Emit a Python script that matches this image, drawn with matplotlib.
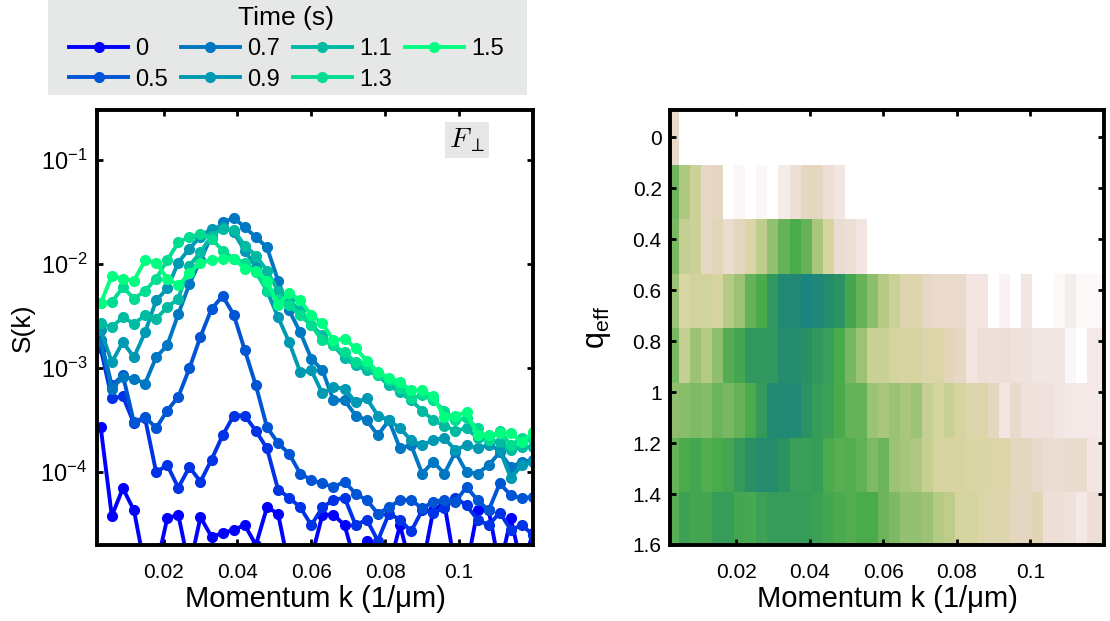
import numpy as np
import matplotlib.pyplot as plt
from matplotlib.colors import LinearSegmentedColormap
from matplotlib.patches import Rectangle

plt.rcParams['font.family'] = ['Liberation Sans', 'DejaVu Sans']
plt.rcParams['mathtext.fontset'] = 'custom'
plt.rcParams['mathtext.rm'] = 'Liberation Sans'
plt.rcParams['mathtext.it'] = 'Liberation Sans:italic'

# momentum grid (1/um)
k = 0.003 * np.arange(1, 41)

# time of each curve (s); 0.3 s is drawn but not in the legend
times = [0, 0.3, 0.5, 0.7, 0.9, 1.1, 1.3, 1.5]
labels = ['0', None, '0.5', '0.7', '0.9', '1.1', '1.3', '1.5']

S_0 = [2.7e-4, 3.8e-5, 7.0e-5, 4.3e-5, 1.2e-5, 1.2e-5, 3.6e-5, 3.9e-5, 1.2e-5, 3.7e-5,
       2.4e-5, 2.6e-5, 2.8e-5, 3.1e-5, 2.0e-5, 4.6e-5, 4.0e-5, 1.2e-5, 1.2e-5, 1.5e-5,
       3.9e-5, 3.9e-5, 3.1e-5, 1.3e-5, 2.2e-5, 1.2e-5, 1.2e-5, 3.1e-5, 1.2e-5, 1.2e-5,
       4.3e-5, 5.0e-5, 1.2e-5, 1.2e-5, 4.3e-5, 4.3e-5, 1.2e-5, 3.6e-5, 1.2e-5, 2.6e-5]
S_03 = [1.54e-3, 5.1e-4, 5.35e-4, 2.94e-4, 3.3e-4, 1.0e-4, 1.17e-4, 7.1e-5, 1.12e-4, 8.1e-5,
        1.32e-4, 2.26e-4, 3.5e-4, 3.5e-4, 2.49e-4, 1.69e-4, 6.8e-5, 5.7e-5, 4.6e-5, 3.1e-5,
        4.6e-5, 5.4e-5, 5.7e-5, 3.1e-5, 3.5e-5, 2.2e-5, 4.0e-5, 3.5e-5, 2.7e-5, 4.3e-5,
        4.1e-5, 4.5e-5, 5.7e-5, 4.8e-5, 3.5e-5, 3.1e-5, 4.1e-5, 2.8e-5, 3.1e-5, 2.5e-5]
S_05 = [1.84e-3, 6.8e-4, 8.5e-4, 3.0e-4, 3.4e-4, 2.65e-4, 3.9e-4, 5.3e-4, 9.9e-4, 2.0e-3,
        3.7e-3, 4.9e-3, 3.25e-3, 1.48e-3, 6.8e-4, 2.7e-4, 1.9e-4, 1.5e-4, 9.7e-5, 8.4e-5,
        7.8e-5, 7.2e-5, 8.1e-5, 6.2e-5, 5.4e-5, 4.0e-5, 4.6e-5, 5.4e-5, 5.4e-5, 4.5e-5,
        5.2e-5, 5.4e-5, 5.2e-5, 7.2e-5, 5.4e-5, 4.3e-5, 7.8e-5, 6.0e-5, 5.6e-5, 5.8e-5]
S_07 = [1.77e-3, 6.3e-4, 8.2e-4, 7.9e-4, 7.1e-4, 1.27e-3, 1.65e-3, 3.3e-3, 6.4e-3, 1.08e-2,
        1.87e-2, 2.5e-2, 2.76e-2, 2.25e-2, 1.8e-2, 1.44e-2, 6.9e-3, 3.57e-3, 2.2e-3, 1.23e-3,
        9.5e-4, 4.9e-4, 4.9e-4, 3.5e-4, 3.15e-4, 2.26e-4, 3.15e-4, 1.69e-4, 1.82e-4, 9.7e-5,
        1.26e-4, 9.7e-5, 1.56e-4, 1.0e-4, 9.7e-5, 1.17e-4, 1.55e-4, 1.12e-4, 1.26e-4, 1.3e-4]
S_09 = [2.3e-3, 1.14e-3, 1.77e-3, 1.27e-3, 2.2e-3, 4.45e-3, 5.8e-3, 1.03e-2, 1.4e-2, 1.83e-2,
        2.18e-2, 2.28e-2, 2.0e-2, 1.34e-2, 9.3e-3, 5.5e-3, 3.08e-3, 1.77e-3, 9.1e-4, 9.5e-4,
        5.7e-4, 6.6e-4, 6.3e-4, 4.7e-4, 5.1e-4, 3.5e-4, 3.15e-4, 2.64e-4, 2.03e-4, 1.82e-4,
        2.03e-4, 2.12e-4, 1.63e-4, 1.82e-4, 1.7e-4, 1.82e-4, 1.63e-4, 8.8e-5, 1.17e-4, 1.25e-4]
S_11 = [2.68e-3, 2.47e-3, 3.08e-3, 2.66e-3, 3.2e-3, 2.97e-3, 3.84e-3, 4.63e-3, 9.6e-3, 1.29e-2,
        1.87e-2, 2.18e-2, 2.09e-2, 1.5e-2, 1.2e-2, 8.6e-3, 5.5e-3, 4.45e-3, 3.57e-3, 2.57e-3,
        2.06e-3, 1.65e-3, 1.24e-3, 1.06e-3, 9.5e-4, 8.5e-4, 6.8e-4, 5.85e-4, 4.9e-4, 3.9e-4,
        3.15e-4, 2.8e-4, 2.5e-4, 2.64e-4, 2.12e-4, 2.03e-4, 1.94e-4, 1.63e-4, 1.75e-4, 1.75e-4]
S_13 = [4.17e-3, 4.29e-3, 5.97e-3, 4.63e-3, 5.5e-3, 7.2e-3, 1.08e-2, 1.61e-2, 1.8e-2, 1.94e-2,
        1.74e-2, 1.34e-2, 1.12e-2, 1.03e-2, 8.3e-3, 5.5e-3, 4.45e-3, 4.0e-3, 3.2e-3, 2.57e-3,
        1.84e-3, 1.65e-3, 1.41e-3, 1.13e-3, 1.06e-3, 8.5e-4, 7.6e-4, 6.4e-4, 5.1e-4, 5.5e-4,
        4.9e-4, 3.9e-4, 3.15e-4, 3.3e-4, 2.64e-4, 2.03e-4, 2.5e-4, 1.82e-4, 2.12e-4, 2.03e-4]
S_15 = [4.17e-3, 7.7e-3, 7.2e-3, 6.9e-3, 1.08e-2, 1.03e-2, 7.2e-3, 6.2e-3, 8.1e-3, 1.03e-2,
        1.08e-2, 1.12e-2, 1.12e-2, 9.0e-3, 8.6e-3, 6.9e-3, 4.0e-3, 5.3e-3, 4.45e-3, 3.2e-3,
        2.68e-3, 1.84e-3, 1.92e-3, 1.54e-3, 1.18e-3, 9.1e-4, 8.1e-4, 7.3e-4, 6.1e-4, 6.1e-4,
        5.35e-4, 3.37e-4, 3.5e-4, 3.76e-4, 2.26e-4, 2.26e-4, 2.37e-4, 2.37e-4, 1.94e-4, 2.42e-4]
spectra = [S_0, S_03, S_05, S_07, S_09, S_11, S_13, S_15]

# heatmap: rows are q_eff bins, columns follow k
q_eff = np.linspace(0, 1.5, 8)
row_0 = [0.27] + [0] * 39
row_1 = [0.7, 0.55, 0.45, 0.3, 0.31, 0, 0.05, 0, 0.05, 0, 0.12, 0.23, 0.32, 0.32, 0.23, 0.15] + [0] * 24
row_2 = [0.68, 0.48, 0.45, 0.3, 0.34, 0.25, 0.32, 0.38, 0.5, 0.62, 0.72, 0.8, 0.72, 0.57, 0.41,
         0.25, 0.23, 0.15] + [0] * 22
row_3 = [0.6, 0.4, 0.43, 0.43, 0.41, 0.53, 0.6, 0.72, 0.8, 0.88, 0.95, 0.96, 1.0, 0.97, 0.93,
         0.9, 0.82, 0.72, 0.64, 0.53, 0.46, 0.37, 0.37, 0.3, 0.27, 0.27, 0.27, 0.16, 0.16, 0,
         0.07, 0, 0.15, 0, 0, 0.04, 0.11, 0.04, 0.04, 0.04]
row_4 = [0.68, 0.48, 0.6, 0.53, 0.63, 0.77, 0.82, 0.88, 0.88, 0.88, 0.93, 0.93, 0.91, 0.88, 0.85,
         0.8, 0.68, 0.6, 0.46, 0.46, 0.42, 0.41, 0.41, 0.38, 0.39, 0.33, 0.3, 0.16, 0.23, 0.21,
         0.23, 0.2, 0.2, 0.15, 0.15, 0.15, 0.05, 0, 0.13, 0.13]
row_5 = [0.63, 0.65, 0.67, 0.66, 0.71, 0.68, 0.72, 0.8, 0.87, 0.95, 0.96, 0.96, 0.9, 0.86, 0.84,
         0.8, 0.72, 0.72, 0.6, 0.57, 0.6, 0.57, 0.6, 0.48, 0.42, 0.46, 0.41, 0.38, 0.38, 0.32,
         0.16, 0.27, 0.2, 0.2, 0.2, 0.16, 0.13, 0.13, 0.13, 0.13]
row_6 = [0.72, 0.8, 0.82, 0.78, 0.8, 0.82, 0.87, 0.91, 0.93, 0.93, 0.9, 0.85, 0.85, 0.86, 0.8,
         0.76, 0.78, 0.73, 0.67, 0.71, 0.6, 0.58, 0.55, 0.48, 0.41, 0.41, 0.41, 0.4, 0.4, 0.38,
         0.38, 0.32, 0.32, 0.28, 0.24, 0.24, 0.26, 0.26, 0.16, 0.16]
row_7 = [0.76, 0.84, 0.82, 0.82, 0.86, 0.86, 0.82, 0.81, 0.84, 0.86, 0.86, 0.86, 0.86, 0.84, 0.82,
         0.8, 0.78, 0.8, 0.8, 0.71, 0.67, 0.62, 0.62, 0.6, 0.53, 0.5, 0.41, 0.42, 0.38, 0.37,
         0.37, 0.32, 0.32, 0.35, 0.23, 0.23, 0.2, 0.13, 0.23, 0.23]
heat = np.array([row_0, row_1, row_2, row_3, row_4, row_5, row_6, row_7])

cmap = LinearSegmentedColormap.from_list('wpg', [
    (0.0, '#ffffff'), (0.15, '#f2e6e3'), (0.25, '#ebdcd2'), (0.32, '#e4d6be'),
    (0.4, '#d9d5a4'), (0.48, '#c5cf91'), (0.57, '#a8c67c'), (0.65, '#88bd6a'),
    (0.72, '#66b258'), (0.8, '#4aab4d'), (0.87, '#339a5c'), (0.93, '#248b6b'),
    (1.0, '#1a8580')])

fig = plt.figure(figsize=(11.1, 6.21), dpi=100)
ax1 = fig.add_axes([0.0874, 0.1224, 0.3928, 0.7005])
ax2 = fig.add_axes([0.6036, 0.1224, 0.391, 0.7005])

for t, lab, S in zip(times, labels, spectra):
    c = plt.cm.winter(t / 1.5)
    ax1.plot(k, S, '-o', color=c, lw=2.8, ms=7, label=lab if lab else '_nolegend_')

ax1.set_yscale('log')
ax1.set_ylim(2e-5, 0.3)
ax1.set_xlim(0.002, 0.12)
ax1.set_xticks([0.02, 0.04, 0.06, 0.08, 0.1])
ax1.set_xticklabels(['0.02', '0.04', '0.06', '0.08', '0.1'])
ax1.set_yticks([1e-4, 1e-3, 1e-2, 1e-1])
ax1.minorticks_off()
ax1.set_xlabel('Momentum k (1/μm)', fontsize=21, labelpad=2)
ax1.set_ylabel('S(k)', fontsize=19, labelpad=4)
ax1.text(0.849, 0.931, r'$F_{\perp}$', transform=ax1.transAxes, fontsize=20,
         math_fontfamily='cm', ha='center', va='center',
         bbox=dict(facecolor='#e6e8e6', edgecolor='none', pad=3))

k_edges = np.concatenate([[k[0] - 0.0015], k + 0.0015])
q_edges = np.concatenate([[q_eff[0] - 0.1071], q_eff + 0.1071])
ax2.pcolormesh(k_edges, q_edges, heat, cmap=cmap, vmin=0, vmax=1, shading='flat')
ax2.set_xlim(0.002, 0.12)
ax2.set_ylim(1.6, -0.107)
ax2.set_xticks([0.02, 0.04, 0.06, 0.08, 0.1])
ax2.set_xticklabels(['0.02', '0.04', '0.06', '0.08', '0.1'])
ax2.set_yticks([0, 0.2, 0.4, 0.6, 0.8, 1, 1.2, 1.4, 1.6])
ax2.set_yticklabels(['0', '0.2', '0.4', '0.6', '0.8', '1', '1.2', '1.4', '1.6'])
ax2.set_xlabel('Momentum k (1/μm)', fontsize=21, labelpad=2)
ax2.set_ylabel(r'q$_{\rm eff}$', fontsize=22, labelpad=14)

for ax in (ax1, ax2):
    for sp in ax.spines.values():
        sp.set_linewidth(2.8)
    ax.tick_params(direction='in', length=4, width=2, top=True, right=True)
    ax.tick_params(axis='x', labelsize=15, pad=13)
    ax.tick_params(axis='y', labelsize=15, pad=6)
ax1.tick_params(axis='y', labelsize=17, pad=7)

# grey band behind the legend
fig.patches.append(Rectangle((48 / 1110, 1 - 95 / 621), 479 / 1110, 95 / 621,
                             transform=fig.transFigure, facecolor='#e5e8e6',
                             edgecolor='none', zorder=-1))
leg = ax1.legend(loc='upper left', bbox_to_anchor=(69 / 1110, 0.99),
                 bbox_transform=fig.transFigure, ncol=4, title='Time (s)',
                 fontsize=17, title_fontsize=19, frameon=False,
                 handlelength=2.5, handletextpad=0.3, columnspacing=0.55,
                 labelspacing=0.35, borderpad=0, borderaxespad=0)

fig.savefig('out.png', dpi=100)
